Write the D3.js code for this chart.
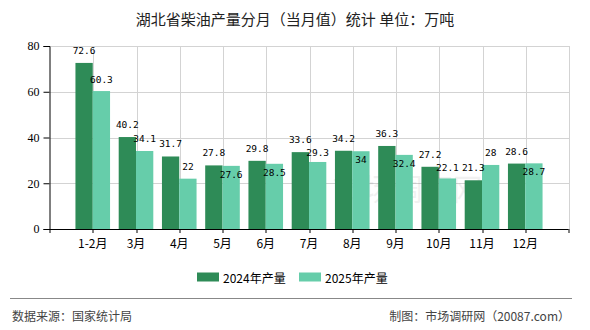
<!DOCTYPE html>
<html>
<head>
<meta charset="utf-8">
<script src="https://cdn.jsdelivr.net/npm/d3@7"></script>
<style>
  body { margin: 0; background: #fff; }
  svg { display: block; font-family: "Noto Sans CJK SC", sans-serif; }
  .grid line { stroke: #d3d3d3; stroke-width: 1; shape-rendering: crispEdges; }
  .bar-label { font-family: "DejaVu Sans Mono", monospace; font-size: 9.5px; fill: #000; }
</style>
</head>
<body>
<div id="wrapper"></div>
<script>
// data
const months = ["1-2月", "3月", "4月", "5月", "6月", "7月", "8月", "9月", "10月", "11月", "12月"]
const output2024 = [72.6, 40.2, 31.7, 27.8, 29.8, 33.6, 34.2, 36.3, 27.2, 21.3, 28.6]
const output2025 = [60.3, 34.1, 22, 27.6, 28.5, 29.3, 34, 32.4, 22.1, 28, 28.7]
const seriesNames = ["2024年产量", "2025年产量"]
const yTicks = [0, 20, 40, 60, 80]

const colors = ["#2e8b57", "#66cdaa"]

const dimensions = {
  width: 590,
  height: 330,
  margin: { top: 46, right: 21.5, bottom: 101, left: 49.5 },
}
dimensions.boundedWidth = dimensions.width - dimensions.margin.left - dimensions.margin.right
dimensions.boundedHeight = dimensions.height - dimensions.margin.top - dimensions.margin.bottom

const svg = d3.select("#wrapper").append("svg")
    .attr("width", dimensions.width)
    .attr("height", dimensions.height)

// title
svg.append("text")
    .attr("x", 295)
    .attr("y", 18)
    .attr("text-anchor", "middle")
    .attr("dominant-baseline", "central")
    .style("font-size", "15px")
    .style("fill", "#222")
    .text("湖北省柴油产量分月（当月值）统计\u00a0单位：万吨")

const bounds = svg.append("g")
    .attr("transform", `translate(${dimensions.margin.left}, ${dimensions.margin.top})`)

// scales: categories sit on the tick lines, one empty slot at each end
const step = dimensions.boundedWidth / (months.length + 1)
const xScale = d3.scalePoint()
    .domain(months)
    .range([step, dimensions.boundedWidth - step])

const yScale = d3.scaleLinear()
    .domain([0, 80])
    .range([dimensions.boundedHeight, 0])

const slots = d3.range(1, months.length + 2).map(k => k * step)

// grid
const grid = bounds.append("g").attr("class", "grid")
grid.selectAll(".h").data(yTicks.slice(1)).enter().append("line")
    .attr("x1", 0).attr("x2", dimensions.boundedWidth)
    .attr("y1", d => Math.round(yScale(d)) + 0.5).attr("y2", d => Math.round(yScale(d)) + 0.5)
grid.selectAll(".v").data(slots).enter().append("line")
    .attr("x1", d => Math.round(d) + 0.5).attr("x2", d => Math.round(d) + 0.5)
    .attr("y1", 0).attr("y2", dimensions.boundedHeight)

// watermark
bounds.append("text")
    .attr("x", 358)
    .attr("y", 154)
    .attr("text-anchor", "middle")
    .style("font-size", "30px")
    .style("fill", "#000")
    .style("opacity", 0.05)
    .text("市场调研网")

// bars
const barW = step * 0.4
const series = [output2024, output2025]
series.forEach((values, s) => {
  bounds.selectAll(`.bar-${s}`)
      .data(values)
    .enter().append("rect")
      .attr("x", (d, i) => xScale(months[i]) - (s === 0 ? barW : 0))
      .attr("y", d => yScale(d))
      .attr("width", barW)
      .attr("height", d => dimensions.boundedHeight - yScale(d))
      .attr("fill", colors[s])
})

// labels, shifting the 2025 label when it hits the 2024 one
const charW = 5.7
const labelPad = 2
const labelH = 13
const labels = []
months.forEach((m, i) => {
  const dTop = yScale(output2024[i])
  const lTop = yScale(output2025[i])
  const dx = xScale(m) - barW / 2
  const lx = xScale(m) + barW / 2
  const dText = String(output2024[i])
  const lText = String(output2025[i])
  const dy = dTop - 12.5
  let ly = lTop - 12
  const xOverlap = dx + dText.length * charW / 2 + labelPad > lx - lText.length * charW / 2 - labelPad
  if (xOverlap && Math.abs(ly - dy) < labelH) {
    ly = dy + labelH
    if (lTop - ly < 8.5) ly = lTop + 8.5
  }
  labels.push({ x: dx, y: dy, text: dText })
  labels.push({ x: lx, y: ly, text: lText })
})
bounds.selectAll(".bar-label")
    .data(labels)
  .enter().append("text")
    .attr("class", "bar-label")
    .attr("x", d => d.x)
    .attr("y", d => d.y)
    .attr("text-anchor", "middle")
    .attr("dominant-baseline", "central")
    .text(d => d.text)

// axes
const yAxis = bounds.append("g")
    .call(d3.axisLeft(yScale).tickValues(yTicks).tickSize(6).tickPadding(4))
yAxis.select(".domain").attr("stroke", "#000")
yAxis.selectAll("text")
    .style("font-family", "'Liberation Serif', serif")
    .style("font-size", "12px")
    .style("fill", "#000")

const xAxis = bounds.append("g")
    .attr("transform", `translate(0, ${dimensions.boundedHeight})`)
xAxis.append("line")
    .attr("x1", 0).attr("x2", dimensions.boundedWidth)
    .attr("y1", 0.5).attr("y2", 0.5)
    .attr("stroke", "#000")
xAxis.selectAll(".tick")
    .data([0, ...slots])
  .enter().append("line")
    .attr("x1", d => Math.round(d) + 0.5).attr("x2", d => Math.round(d) + 0.5)
    .attr("y1", 0).attr("y2", 4)
    .attr("stroke", "#000")
xAxis.selectAll(".x-label")
    .data(months)
  .enter().append("text")
    .attr("x", d => xScale(d))
    .attr("y", 13)
    .attr("text-anchor", "middle")
    .attr("dominant-baseline", "central")
    .style("font-size", "12px")
    .style("fill", "#000")
    .text(d => d)

// legend
const legend = svg.append("g")
const legendX = [197, 299]
seriesNames.forEach((name, s) => {
  legend.append("rect")
      .attr("x", legendX[s])
      .attr("y", 272.5)
      .attr("width", 22)
      .attr("height", 9)
      .attr("fill", colors[s])
  legend.append("text")
      .attr("x", legendX[s] + 26)
      .attr("y", 277)
      .attr("dominant-baseline", "central")
      .style("font-size", "12px")
      .style("fill", "#000")
      .text(name)
})

// footer
svg.append("line")
    .attr("x1", 10).attr("x2", 572)
    .attr("y1", 298.5).attr("y2", 298.5)
    .attr("stroke", "#888")
svg.append("text")
    .attr("x", 12)
    .attr("y", 315)
    .attr("dominant-baseline", "central")
    .style("font-size", "12px")
    .style("fill", "#444")
    .text("数据来源：国家统计局")
svg.append("text")
    .attr("x", 570)
    .attr("y", 315)
    .attr("text-anchor", "end")
    .attr("dominant-baseline", "central")
    .style("font-size", "12px")
    .style("fill", "#444")
    .text("制图：市场调研网（20087.com）")
</script>
</body>
</html>
